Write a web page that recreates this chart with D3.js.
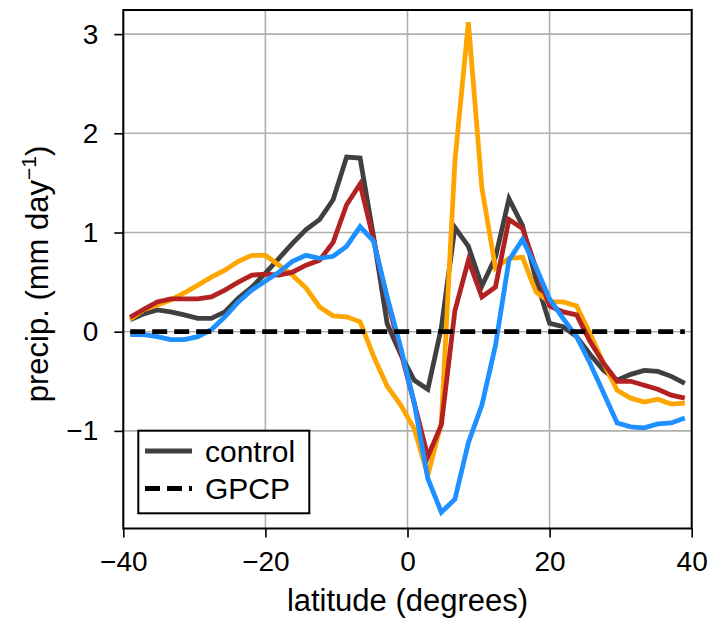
<!DOCTYPE html>
<html>
<head>
<meta charset="utf-8">
<script src="https://cdn.jsdelivr.net/npm/d3@7"></script>
<style>
  html, body { margin: 0; padding: 0; background: #fff; }
  svg { display: block; font-family: "Liberation Sans", Arial, Helvetica, sans-serif; }
</style>
</head>
<body>
<svg id="chart" width="711" height="619"></svg>
<script>
// ---------- data ----------
const latitudes = [-39.03, -37.13, -35.23, -33.32, -31.42, -29.51, -27.61, -25.71, -23.80, -21.90,
  -19.99, -18.09, -16.19, -14.28, -12.38, -10.47, -8.57, -6.67, -4.76, -2.86, -0.95,
  0.95, 2.86, 4.76, 6.67, 8.57, 10.47, 12.38, 14.28, 16.19, 18.09, 19.99, 21.90,
  23.80, 25.71, 27.61, 29.51, 31.42, 33.32, 35.23, 37.13, 39.03];

const control = [0.12, 0.18, 0.22, 0.20, 0.17, 0.135, 0.135, 0.20, 0.34, 0.45,
  0.59, 0.74, 0.89, 1.03, 1.13, 1.33, 1.76, 1.75, 0.95, 0.08, -0.23,
  -0.49, -0.58, 0.04, 1.05, 0.86, 0.46, 0.75, 1.34, 1.07, 0.52, 0.085, 0.05,
  -0.05, -0.23, -0.39, -0.49, -0.43, -0.39, -0.40, -0.45, -0.52];

const seriesRed = [0.145, 0.226, 0.30, 0.33, 0.33, 0.33, 0.35, 0.42, 0.50, 0.57,
  0.58, 0.57, 0.60, 0.67, 0.72, 0.90, 1.28, 1.49, 0.92, 0.32, -0.20,
  -0.72, -1.26, -0.94, 0.21, 0.72, 0.35, 0.45, 1.13, 1.04, 0.64, 0.26, 0.20,
  0.17, -0.10, -0.32, -0.50, -0.50, -0.54, -0.58, -0.64, -0.67];

const seriesOrange = [0.125, 0.22, 0.27, 0.32, 0.39, 0.47, 0.55, 0.62, 0.71, 0.77,
  0.77, 0.67, 0.57, 0.44, 0.25, 0.16, 0.15, 0.10, -0.25, -0.55, -0.74,
  -0.98, -1.45, -0.92, 1.72, 3.12, 1.45, 0.64, 0.74, 0.75, 0.40, 0.30, 0.30,
  0.26, -0.02, -0.32, -0.59, -0.67, -0.71, -0.68, -0.73, -0.72];

const seriesBlue = [-0.03, -0.03, -0.05, -0.08, -0.08, -0.05, 0.02, 0.15, 0.30, 0.42,
  0.51, 0.60, 0.71, 0.77, 0.74, 0.76, 0.86, 1.06, 0.91, 0.35, -0.16,
  -0.72, -1.48, -1.82, -1.69, -1.12, -0.74, -0.14, 0.72, 0.93, 0.65, 0.33, 0.135,
  -0.05, -0.32, -0.62, -0.92, -0.96, -0.97, -0.93, -0.92, -0.87];

const gpcp = [0, 0, 0, 0, 0, 0, 0, 0, 0, 0, 0, 0, 0, 0, 0, 0, 0, 0, 0, 0, 0,
  0, 0, 0, 0, 0, 0, 0, 0, 0, 0, 0, 0, 0, 0, 0, 0, 0, 0, 0, 0, 0];

const xTicks = [-40, -20, 0, 20, 40];
const yTicks = [-1, 0, 1, 2, 3];
const legendLabels = ["control", "GPCP"];

// ---------- layout ----------
const margin = { left: 123.3, right: 711 - 691.7, top: 10, bottom: 619 - 528.5 };
const W = 711, H = 619;
const svg = d3.select("#chart");

const x = d3.scaleLinear().domain([-40, 40]).range([margin.left, W - margin.right]);
const y = d3.scaleLinear().domain([-1.984, 3.243]).range([H - margin.bottom, margin.top]);

const fmt = d => (d < 0 ? "\u2212" + Math.abs(d) : String(d));

// grid
const grid = svg.append("g");
grid.selectAll("line.gx").data(xTicks).join("line")
  .attr("x1", d => x(d)).attr("x2", d => x(d))
  .attr("y1", y.range()[1]).attr("y2", y.range()[0])
  .attr("stroke", "#b0b0b0").attr("stroke-width", 1.6);
grid.selectAll("line.gy").data(yTicks).join("line")
  .attr("y1", d => y(d)).attr("y2", d => y(d))
  .attr("x1", x.range()[0]).attr("x2", x.range()[1])
  .attr("stroke", "#b0b0b0").attr("stroke-width", 1.6);

// lines
const line = d3.line().x((d, i) => x(latitudes[i])).y(d => y(d));
const series = [
  { vals: control, color: "#404040" },
  { vals: seriesOrange, color: "#ffa500" },
  { vals: seriesRed, color: "#b22222" },
  { vals: seriesBlue, color: "#1e90ff" }
];
svg.append("g").selectAll("path").data(series).join("path")
  .attr("d", d => line(d.vals))
  .attr("fill", "none")
  .attr("stroke", d => d.color)
  .attr("stroke-width", 4.8)
  .attr("stroke-linejoin", "miter")
  .attr("stroke-linecap", "butt");

svg.append("path")
  .attr("d", line(gpcp))
  .attr("fill", "none")
  .attr("stroke", "#000")
  .attr("stroke-width", 4.8)
  .attr("stroke-dasharray", "15,7");

// axes
const xAxis = d3.axisBottom(x).tickValues(xTicks).tickFormat(fmt).tickSize(9).tickPadding(14);
const yAxis = d3.axisLeft(y).tickValues(yTicks).tickFormat(fmt).tickSize(9).tickPadding(16);

const gx = svg.append("g").attr("transform", `translate(0,${y.range()[0]})`).call(xAxis);
const gy = svg.append("g").attr("transform", `translate(${x.range()[0]},0)`).call(yAxis);
[gx, gy].forEach(g => {
  g.select(".domain").remove();
  g.selectAll(".tick line").attr("stroke", "#000").attr("stroke-width", 1.6);
  g.selectAll(".tick text").attr("fill", "#000").style("font-size", "28px")
    .style("font-family", "'Liberation Sans', Arial, sans-serif");
});

// frame
svg.append("rect")
  .attr("x", x.range()[0]).attr("y", y.range()[1])
  .attr("width", x.range()[1] - x.range()[0])
  .attr("height", y.range()[0] - y.range()[1])
  .attr("fill", "none").attr("stroke", "#000").attr("stroke-width", 2);

// axis labels
svg.append("text")
  .attr("x", (x.range()[0] + x.range()[1]) / 2)
  .attr("y", 611)
  .attr("text-anchor", "middle")
  .style("font-size", "31px")
  .text("latitude (degrees)");

const yl = svg.append("text")
  .attr("transform", "translate(48,274) rotate(-90)")
  .attr("text-anchor", "middle")
  .style("font-size", "31px");
yl.append("tspan").text("precip. (mm day");
yl.append("tspan").attr("dy", -12).style("font-size", "21px").text("\u22121");
yl.append("tspan").attr("dy", 12).text(")");

// legend
const lg = svg.append("g");
lg.append("rect").attr("x", 138.3).attr("y", 430.7).attr("width", 171).attr("height", 82.6)
  .attr("fill", "#fff").attr("stroke", "#000").attr("stroke-width", 2);
const legendItems = [
  { label: legendLabels[0], color: "#404040", dash: null, yy: 451 },
  { label: legendLabels[1], color: "#000", dash: "15,7", yy: 488.5 }
];
legendItems.forEach(it => {
  lg.append("line").attr("x1", 145).attr("x2", 192).attr("y1", it.yy).attr("y2", it.yy)
    .attr("stroke", it.color).attr("stroke-width", 4.8)
    .attr("stroke-dasharray", it.dash);
  lg.append("text").attr("x", 205).attr("y", it.yy + 10.5)
    .style("font-size", "30px").text(it.label);
});
</script>
</body>
</html>
